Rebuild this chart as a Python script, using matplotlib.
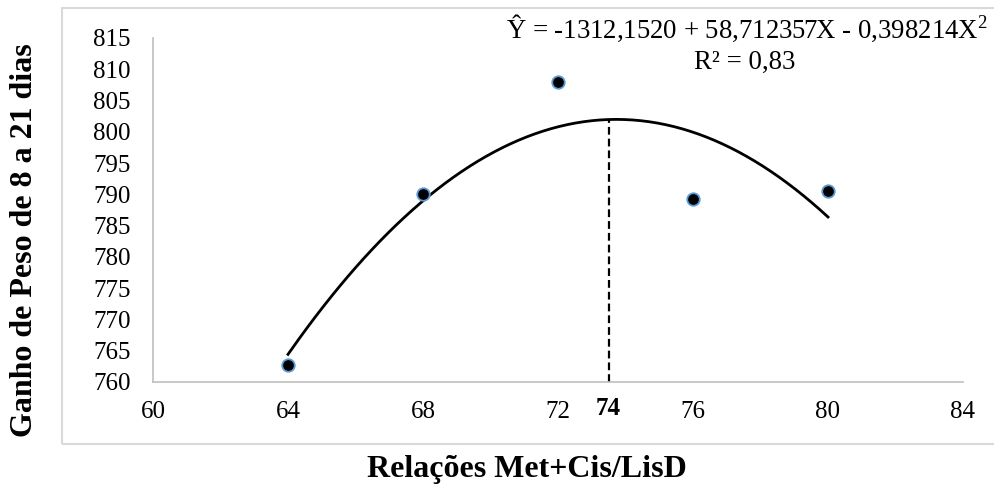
import matplotlib
matplotlib.use('Agg')
import matplotlib.pyplot as plt
import numpy as np
from matplotlib.patches import Rectangle

plt.rcParams['font.family'] = ['Liberation Serif', 'DejaVu Serif']
plt.rcParams['mathtext.fontset'] = 'custom'
plt.rcParams['mathtext.rm'] = 'Liberation Serif'
plt.rcParams['mathtext.it'] = 'Liberation Serif:italic'
plt.rcParams['mathtext.bf'] = 'Liberation Serif:bold'

# data
relacoes = [64, 68, 72, 76, 80]
ganho = [762.7, 790.0, 808.0, 789.3, 790.5]
x_ticks = [60, 64, 68, 72, 76, 80, 84]
y_ticks = [760, 765, 770, 775, 780, 785, 790, 795, 800, 805, 810, 815]
x_otimo = 73.5
eq_text = 'Ŷ = -1312,1520 + 58,712357X - 0,398214X$^{\\mathrm{2}}$'
r2_text = 'R² = 0,83'

W, H = 994, 495
fig = plt.figure(figsize=(W / 100, H / 100), dpi=100)
fig.patch.set_facecolor('white')

# chart area frame (Excel style)
fig.patches.append(Rectangle((62 / W, 1 - 444 / H), 1.0, (444 - 8) / H,
                             transform=fig.transFigure, fill=False,
                             edgecolor='#D9D9D9', lw=1.5, zorder=0))

ax = fig.add_axes([153 / W, 1 - 382 / H, (963 - 153) / W, (382 - 38) / H])
ax.set_xlim(60, 84)
ax.set_ylim(760, 815)
ax.set_xticks(x_ticks)
ax.set_yticks(y_ticks)
ax.tick_params(axis='both', length=0, labelsize=18)
ax.tick_params(axis='x', pad=14)
ax.tick_params(axis='y', pad=16)
for s in ['top', 'right']:
    ax.spines[s].set_visible(False)
for s in ['left', 'bottom']:
    ax.spines[s].set_color('#BFBFBF')
    ax.spines[s].set_linewidth(1.2)

# quadratic trend line fitted to the points
coef = np.polyfit(relacoes, ganho, 2)
xs = np.linspace(relacoes[0], relacoes[-1], 200)
ax.plot(xs, np.polyval(coef, xs), color='black', lw=2.0, zorder=3)

# points
ax.plot(relacoes, ganho, 'o', ms=9, mfc='black', mec='#5B9BD5',
        mew=1.3, zorder=4, clip_on=False)

# optimum line
ax.plot([x_otimo, x_otimo], [760, np.polyval(coef, x_otimo)], color='black',
        lw=1.6, ls=(0, (3.5, 1.8)), zorder=2)
ax.text(x_otimo, -0.076, '74', transform=ax.get_xaxis_transform(),
        ha='center', va='center', fontsize=18, fontweight='bold')

# equation
fig.text(747 / W, 1 - 28 / H, eq_text, ha='center', va='center', fontsize=19.3)
fig.text(745 / W, 1 - 62 / H, r2_text, ha='center', va='center', fontsize=19.3)

# axis titles
fig.text(25 / W, 1 - 240 / H, 'Ganho de Peso de 8 a 21 dias', rotation=90,
         ha='center', va='center', fontsize=23, fontweight='bold')
fig.text(527 / W, 1 - 470 / H, 'Relações Met+Cis/LisD',
         ha='center', va='center', fontsize=23, fontweight='bold')

plt.savefig('out.png', dpi=100, facecolor='white')
